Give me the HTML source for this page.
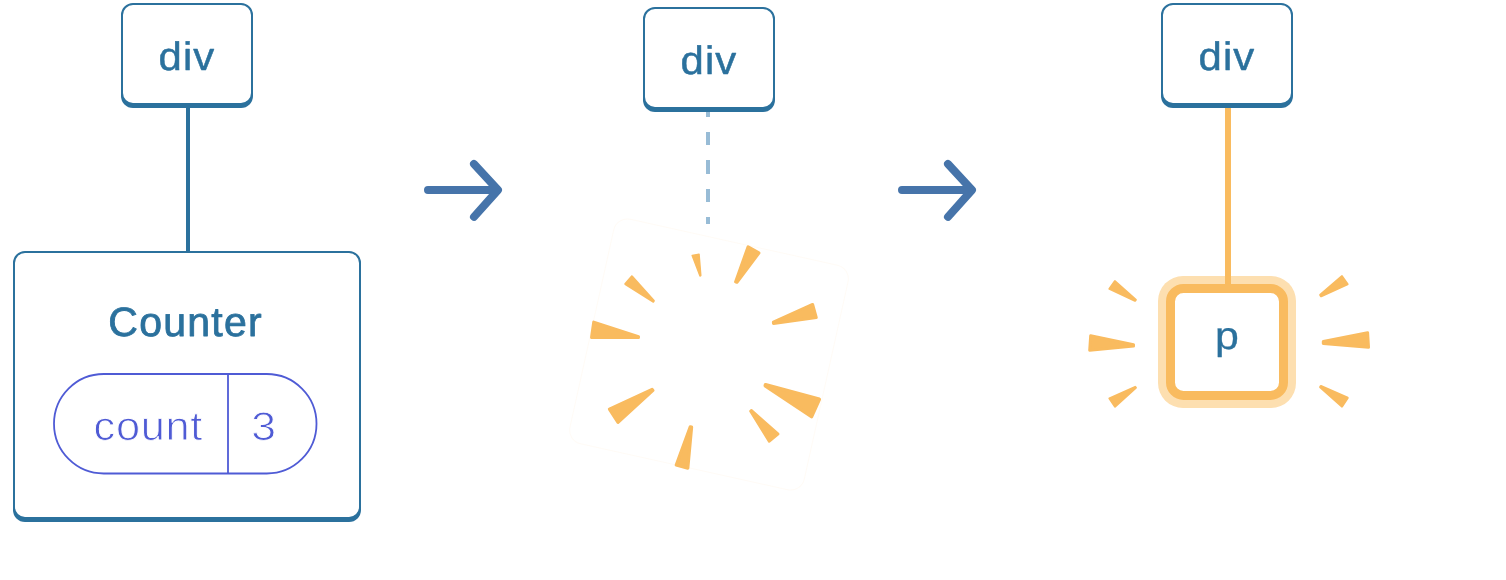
<!DOCTYPE html>
<html lang="en">
<head>
<meta charset="utf-8">
<title>Diagram</title>
<style>
  html, body { margin: 0; padding: 0; background: #ffffff; }
  body { width: 1506px; height: 580px; overflow: hidden; }
  svg { display: block; filter: opacity(1); }
  text { font-family: "Liberation Sans", sans-serif; text-rendering: geometricPrecision; }
  .lbl { font-size: 40px; fill: #2b719d; stroke: #2b719d; stroke-width: 0.8px; stroke-linejoin: round; }
  .st { font-size: 40.5px; fill: #4f5bd5; stroke: #ffffff; stroke-width: 0.9px; }
  .ray { fill: #f9bb5f; stroke: #f9bb5f; stroke-linejoin: round; }
</style>
</head>
<body>
<svg width="1506" height="580" viewBox="0 0 1506 580">
  <rect x="0" y="0" width="1506" height="580" fill="#ffffff"/>

  <!-- panel 1 -->
  <g id="p1">
    <rect x="186" y="106" width="4" height="146" fill="#2b719d"/>
    <rect x="121" y="6" width="132" height="102" rx="12" fill="#2b719d"/>
    <rect x="122" y="4" width="130" height="100" rx="11" fill="#ffffff" stroke="#2b719d" stroke-width="2"/>
    <text class="lbl" transform="translate(158.5 70) scale(1.045 0.99)" letter-spacing="1.1" style="font-size:40px;stroke-width:0.5px">div</text>

    <rect x="13" y="254" width="348" height="268" rx="12" fill="#2b719d"/>
    <rect x="14" y="252" width="346" height="266" rx="11" fill="#ffffff" stroke="#2b719d" stroke-width="2"/>
    <text class="lbl" x="108.3" y="336" letter-spacing="1.25" style="font-size:41px">Counter</text>

    <rect x="54" y="374" width="262.5" height="99.5" rx="49.75" fill="#ffffff" stroke="#4f5bd5" stroke-width="1.8"/>
    <line x1="228" y1="374" x2="228" y2="473.5" stroke="#4f5bd5" stroke-width="1.8"/>
    <text class="st" transform="translate(93.6 440) scale(1.07 1)" letter-spacing="0.6">count</text>
    <text class="st" transform="translate(251.2 440) scale(1.1 0.985)">3</text>
  </g>

  <!-- arrows -->
  <g fill="none" stroke="#4674aa" stroke-width="8" stroke-linecap="round" stroke-linejoin="round">
    <path d="M428 190 H497 M474 164 L498 190 L474 216.8"/>
    <path d="M902 190 H971 M948 164 L972 190 L948 216.8"/>
  </g>

  <!-- panel 2 -->
  <g id="p2">
    <g fill="#98bcd6">
      <rect x="706" y="110" width="4" height="7"/>
      <rect x="706" y="132" width="4" height="13"/>
      <rect x="706" y="160" width="4" height="14"/>
      <rect x="706" y="189" width="4" height="13"/>
      <rect x="706" y="217" width="4" height="7"/>
    </g>
    <rect x="643" y="10" width="132" height="102" rx="12" fill="#2b719d"/>
    <rect x="644" y="8" width="130" height="100" rx="11" fill="#ffffff" stroke="#2b719d" stroke-width="2"/>
    <text class="lbl" transform="translate(680.5 74) scale(1.045 0.99)" letter-spacing="1.1" style="font-size:40px;stroke-width:0.5px">div</text>

    <rect x="-120" y="-115" width="240" height="230" rx="14" transform="translate(709 354.5) rotate(12.5)" fill="none" stroke="#f9bb5f" stroke-opacity="0.06" stroke-width="1"/>
    <g class="ray">
      <polygon points="692.15,255.52 699.98,276.03 700.86,275.59 699.07,254.14" stroke-width="1.40"/>
      <polygon points="748.07,247.02 735.71,281.73 736.88,282.23 758.82,253.01" stroke-width="3.20"/>
      <polygon points="812.63,304.49 773.38,322.23 773.47,323.49 816.29,317.55" stroke-width="3.00"/>
      <polygon points="819.29,399.29 765.56,384.80 765.28,385.82 811.53,416.62" stroke-width="3.60"/>
      <polygon points="778.26,433.97 751.38,410.19 750.36,411.05 769.19,441.50" stroke-width="2.40"/>
      <polygon points="687.87,468.18 691.68,427.04 690.18,426.79 676.17,464.98" stroke-width="3.00"/>
      <polygon points="609.44,409.08 618.02,422.34 652.93,390.42 652.12,389.38" stroke-width="3.20"/>
      <polygon points="593.73,322.08 591.53,337.50 638.50,337.50 638.50,336.59" stroke-width="3.00"/>
      <polygon points="631.91,276.51 625.43,283.93 653.18,301.48 653.67,300.79" stroke-width="2.40"/>
    </g>
  </g>

  <!-- panel 3 -->
  <g id="p3">
    <rect x="1158" y="276" width="138" height="132" rx="25" fill="#fddfb0"/>
    <rect x="1225" y="106" width="6" height="180" fill="#f9bb5f"/>
    <rect x="1161" y="6" width="132" height="102" rx="12" fill="#2b719d"/>
    <rect x="1162" y="4" width="130" height="100" rx="11" fill="#ffffff" stroke="#2b719d" stroke-width="2"/>
    <text class="lbl" transform="translate(1198.5 70) scale(1.045 0.99)" letter-spacing="1.1" style="font-size:40px;stroke-width:0.5px">div</text>

    <rect x="1170.5" y="288.4" width="113" height="107.1" rx="13" fill="#ffffff" stroke="#f9bb5f" stroke-width="9"/>
    <text class="lbl" transform="translate(1215 349) scale(1.1 1)" style="font-size:39px;stroke-width:0.3px">p</text>

    <g class="ray">
      <polygon points="1114.98,281.23 1109.47,288.86 1135.00,300.75 1135.77,299.81" stroke-width="2.20"/>
      <polygon points="1090.59,335.69 1089.61,350.25 1133.60,346.13 1133.60,344.54" stroke-width="2.80"/>
      <polygon points="1109.40,398.52 1114.98,406.69 1135.92,387.70 1135.21,386.83" stroke-width="2.00"/>
      <polygon points="1341.88,276.37 1320.35,294.85 1321.08,296.07 1347.38,284.20" stroke-width="2.40"/>
      <polygon points="1367.61,332.71 1323.30,341.53 1323.30,343.62 1368.50,347.27" stroke-width="3.00"/>
      <polygon points="1347.66,397.88 1320.83,386.09 1320.22,387.09 1341.89,406.53" stroke-width="2.20"/>
    </g>
  </g>
</svg>
</body>
</html>
